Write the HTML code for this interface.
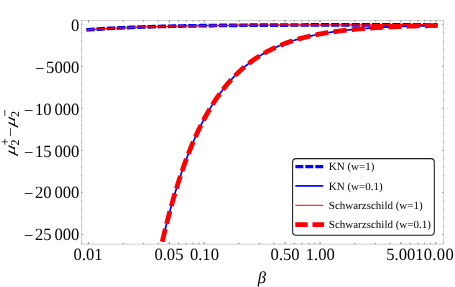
<!DOCTYPE html>
<html><head><meta charset="utf-8"><title>plot</title>
<style>
html,body{margin:0;padding:0;background:#fff;}
body{width:455px;height:287px;overflow:hidden;font-family:"Liberation Serif",serif;}
svg{display:block;will-change:transform;}
text{font-family:"Liberation Serif",serif;fill:#000;text-rendering:geometricPrecision;}
.lg{stroke:none;}
.it{font-style:italic;}
</style></head><body>
<svg width="455" height="287" viewBox="0 0 455 287">
<rect width="455" height="287" fill="#fff"/>

<rect x="81.30" y="20.30" width="362.40" height="223.80" stroke="#b0b0b0" stroke-width="0.6" fill="none"/>
<g stroke="#808080" stroke-width="0.6" fill="none">
<path stroke="#666" stroke-width="0.8" d="M88.40 244.10 v-2.10 M88.40 20.30 v2.10"/>
<path stroke="#666" stroke-width="0.8" d="M123.26 244.10 v-1.30 M123.26 20.30 v1.30"/>
<path stroke="#666" stroke-width="0.8" d="M143.65 244.10 v-1.30 M143.65 20.30 v1.30"/>
<path stroke="#666" stroke-width="0.8" d="M158.12 244.10 v-1.30 M158.12 20.30 v1.30"/>
<path stroke="#666" stroke-width="0.8" d="M169.34 244.10 v-2.10 M169.34 20.30 v2.10"/>
<path stroke="#666" stroke-width="0.8" d="M178.51 244.10 v-1.30 M178.51 20.30 v1.30"/>
<path stroke="#666" stroke-width="0.8" d="M186.26 244.10 v-1.30 M186.26 20.30 v1.30"/>
<path stroke="#666" stroke-width="0.8" d="M192.98 244.10 v-1.30 M192.98 20.30 v1.30"/>
<path stroke="#666" stroke-width="0.8" d="M198.90 244.10 v-1.30 M198.90 20.30 v1.30"/>
<path stroke="#666" stroke-width="0.8" d="M204.20 244.10 v-2.10 M204.20 20.30 v2.10"/>
<path stroke="#666" stroke-width="0.8" d="M239.06 244.10 v-1.30 M239.06 20.30 v1.30"/>
<path stroke="#666" stroke-width="0.8" d="M259.45 244.10 v-1.30 M259.45 20.30 v1.30"/>
<path stroke="#666" stroke-width="0.8" d="M273.92 244.10 v-1.30 M273.92 20.30 v1.30"/>
<path stroke="#666" stroke-width="0.8" d="M285.14 244.10 v-2.10 M285.14 20.30 v2.10"/>
<path stroke="#666" stroke-width="0.8" d="M294.31 244.10 v-1.30 M294.31 20.30 v1.30"/>
<path stroke="#666" stroke-width="0.8" d="M302.06 244.10 v-1.30 M302.06 20.30 v1.30"/>
<path stroke="#666" stroke-width="0.8" d="M308.78 244.10 v-1.30 M308.78 20.30 v1.30"/>
<path stroke="#666" stroke-width="0.8" d="M314.70 244.10 v-1.30 M314.70 20.30 v1.30"/>
<path stroke="#666" stroke-width="0.8" d="M320.00 244.10 v-2.10 M320.00 20.30 v2.10"/>
<path stroke="#666" stroke-width="0.8" d="M354.86 244.10 v-1.30 M354.86 20.30 v1.30"/>
<path stroke="#666" stroke-width="0.8" d="M375.25 244.10 v-1.30 M375.25 20.30 v1.30"/>
<path stroke="#666" stroke-width="0.8" d="M389.72 244.10 v-1.30 M389.72 20.30 v1.30"/>
<path stroke="#666" stroke-width="0.8" d="M400.94 244.10 v-2.10 M400.94 20.30 v2.10"/>
<path stroke="#666" stroke-width="0.8" d="M410.11 244.10 v-1.30 M410.11 20.30 v1.30"/>
<path stroke="#666" stroke-width="0.8" d="M417.86 244.10 v-1.30 M417.86 20.30 v1.30"/>
<path stroke="#666" stroke-width="0.8" d="M424.58 244.10 v-1.30 M424.58 20.30 v1.30"/>
<path stroke="#666" stroke-width="0.8" d="M430.50 244.10 v-1.30 M430.50 20.30 v1.30"/>
<path stroke="#666" stroke-width="0.8" d="M435.80 244.10 v-2.10 M435.80 20.30 v2.10"/>
<path d="M81.30 24.25 h1.90 M443.70 24.25 h-1.90"/>
<path d="M81.30 32.66 h1.10 M443.70 32.66 h-1.10"/>
<path d="M81.30 41.07 h1.10 M443.70 41.07 h-1.10"/>
<path d="M81.30 49.48 h1.10 M443.70 49.48 h-1.10"/>
<path d="M81.30 57.89 h1.10 M443.70 57.89 h-1.10"/>
<path d="M81.30 66.30 h1.90 M443.70 66.30 h-1.90"/>
<path d="M81.30 74.71 h1.10 M443.70 74.71 h-1.10"/>
<path d="M81.30 83.12 h1.10 M443.70 83.12 h-1.10"/>
<path d="M81.30 91.53 h1.10 M443.70 91.53 h-1.10"/>
<path d="M81.30 99.94 h1.10 M443.70 99.94 h-1.10"/>
<path d="M81.30 108.35 h1.90 M443.70 108.35 h-1.90"/>
<path d="M81.30 116.76 h1.10 M443.70 116.76 h-1.10"/>
<path d="M81.30 125.17 h1.10 M443.70 125.17 h-1.10"/>
<path d="M81.30 133.58 h1.10 M443.70 133.58 h-1.10"/>
<path d="M81.30 141.99 h1.10 M443.70 141.99 h-1.10"/>
<path d="M81.30 150.40 h1.90 M443.70 150.40 h-1.90"/>
<path d="M81.30 158.81 h1.10 M443.70 158.81 h-1.10"/>
<path d="M81.30 167.22 h1.10 M443.70 167.22 h-1.10"/>
<path d="M81.30 175.63 h1.10 M443.70 175.63 h-1.10"/>
<path d="M81.30 184.04 h1.10 M443.70 184.04 h-1.10"/>
<path d="M81.30 192.45 h1.90 M443.70 192.45 h-1.90"/>
<path d="M81.30 200.86 h1.10 M443.70 200.86 h-1.10"/>
<path d="M81.30 209.27 h1.10 M443.70 209.27 h-1.10"/>
<path d="M81.30 217.68 h1.10 M443.70 217.68 h-1.10"/>
<path d="M81.30 226.09 h1.10 M443.70 226.09 h-1.10"/>
<path d="M81.30 234.50 h1.90 M443.70 234.50 h-1.90"/>
<path d="M81.30 242.91 h1.10 M443.70 242.91 h-1.10"/>
</g>
<g fill="none">
<path d="M86.40 29.85 L88.16 29.72 L89.91 29.60 L91.67 29.48 L93.42 29.36 L95.18 29.25 L96.93 29.14 L98.69 29.03 L100.44 28.92 L102.20 28.82 L103.96 28.72 L105.71 28.62 L107.47 28.52 L109.22 28.43 L110.98 28.34 L112.73 28.25 L114.49 28.16 L116.25 28.08 L118.00 27.99 L119.76 27.91 L121.51 27.83 L123.27 27.76 L125.02 27.68 L126.78 27.61 L128.54 27.54 L130.29 27.46 L132.05 27.40 L133.80 27.33 L135.56 27.26 L137.31 27.20 L139.07 27.14 L140.82 27.08 L142.58 27.02 L144.34 26.96 L146.09 26.91 L147.85 26.85 L149.60 26.80 L151.36 26.74 L153.11 26.69 L154.87 26.64 L156.63 26.60 L158.38 26.55 L160.14 26.50 L161.89 26.46 L163.65 26.41 L165.40 26.37 L167.16 26.33 L168.92 26.29 L170.67 26.25 L172.43 26.21 L174.18 26.17 L175.94 26.13 L177.69 26.10 L179.45 26.06 L181.20 26.03 L182.96 26.00 L184.72 25.96 L186.47 25.93 L188.23 25.90 L189.98 25.87 L191.74 25.84 L193.49 25.81 L195.25 25.79 L197.01 25.76 L198.76 25.73 L200.52 25.71 L202.27 25.68 L204.03 25.66 L205.78 25.63 L207.54 25.61 L209.30 25.59 L211.05 25.57 L212.81 25.55 L214.56 25.52 L216.32 25.50 L218.07 25.48 L219.83 25.47 L221.58 25.45 L223.34 25.43 L225.10 25.41 L226.85 25.39 L228.61 25.38 L230.36 25.36 L232.12 25.34 L233.87 25.33 L235.63 25.31 L237.39 25.30 L239.14 25.29 L240.90 25.27 L242.65 25.26 L244.41 25.25 L246.16 25.23 L247.92 25.22 L249.68 25.21 L251.43 25.20 L253.19 25.19 L254.94 25.18 L256.70 25.16 L258.45 25.15 L260.21 25.14 L261.96 25.13 L263.72 25.13 L265.48 25.12 L267.23 25.11 L268.99 25.10 L270.74 25.09 L272.50 25.08 L274.25 25.08 L276.01 25.07 L277.77 25.06 L279.52 25.05 L281.28 25.05 L283.03 25.04 L284.79 25.03 L286.54 25.03 L288.30 25.02 L290.06 25.02 L291.81 25.01 L293.57 25.01 L295.32 25.00 L297.08 25.00 L298.83 24.99 L300.59 24.99 L302.34 24.98 L304.10 24.98 L305.86 24.97 L307.61 24.97 L309.37 24.97 L311.12 24.96 L312.88 24.96 L314.63 24.96 L316.39 24.95 L318.15 24.95 L319.90 24.95 L321.66 24.94 L323.41 24.94 L325.17 24.93 L326.92 24.93 L328.68 24.92 L330.44 24.91 L332.19 24.91 L333.95 24.91 L335.70 24.90 L337.46 24.90 L339.21 24.89 L340.97 24.89 L342.72 24.88 L344.48 24.88 L346.24 24.87 L347.99 24.87 L349.75 24.87 L351.50 24.86 L353.26 24.86 L355.01 24.85 L356.77 24.85 L358.53 24.85 L360.28 24.84 L362.04 24.84 L363.79 24.84 L365.55 24.83 L367.30 24.83 L369.06 24.83 L370.82 24.83 L372.57 24.82 L374.33 24.82 L376.08 24.82 L377.84 24.81 L379.59 24.81 L381.35 24.81 L383.10 24.81 L384.86 24.80 L386.62 24.80 L388.37 24.80 L390.13 24.80 L391.88 24.79 L393.64 24.79 L395.39 24.79 L397.15 24.79 L398.91 24.79 L400.66 24.78 L402.42 24.78 L404.17 24.78 L405.93 24.78 L407.68 24.78 L409.44 24.78 L411.20 24.77 L412.95 24.77 L414.71 24.77 L416.46 24.77 L418.22 24.77 L419.97 24.77 L421.73 24.76 L423.48 24.76 L425.24 24.76 L427.00 24.76 L428.75 24.76 L430.51 24.76 L432.26 24.76 L434.02 24.75 L435.77 24.75 L437.53 24.75" stroke="#0000ff" stroke-width="3.7" stroke-dasharray="8.3 1.9"/>
<path d="M162.29 241.60 L163.66 235.74 L165.04 230.04 L166.42 224.50 L167.79 219.10 L169.17 213.85 L170.54 208.74 L171.92 203.77 L173.30 198.93 L174.67 194.23 L176.05 189.65 L177.42 185.19 L178.80 180.86 L180.18 176.64 L181.55 172.54 L182.93 168.54 L184.31 164.66 L185.68 160.88 L187.06 157.20 L188.43 153.62 L189.81 150.14 L191.19 146.75 L192.56 143.45 L193.94 140.24 L195.32 137.12 L196.69 134.08 L198.07 131.13 L199.44 128.25 L200.82 125.45 L202.20 122.73 L203.57 120.08 L204.95 117.51 L206.33 115.00 L207.70 112.56 L209.08 110.18 L210.45 107.87 L211.83 105.63 L213.21 103.44 L214.58 101.31 L215.96 99.24 L217.34 97.22 L218.71 95.26 L220.09 93.36 L221.46 91.50 L222.84 89.69 L224.22 87.94 L225.59 86.23 L226.97 84.56 L228.34 82.95 L229.72 81.37 L231.10 79.84 L232.47 78.35 L233.85 76.90 L235.23 75.48 L236.60 74.11 L237.98 72.77 L239.35 71.47 L240.73 70.21 L242.11 68.98 L243.48 67.78 L244.86 66.61 L246.24 65.48 L247.61 64.38 L248.99 63.30 L250.36 62.26 L251.74 61.24 L253.12 60.25 L254.49 59.29 L255.87 58.35 L257.25 57.44 L258.62 56.56 L260.00 55.69 L261.37 54.85 L262.75 54.04 L264.13 53.24 L265.50 52.47 L266.88 51.72 L268.26 50.99 L269.63 50.27 L271.01 49.58 L272.38 48.91 L273.76 48.25 L275.14 47.61 L276.51 46.99 L277.89 46.39 L279.26 45.80 L280.64 45.23 L282.02 44.67 L283.39 44.13 L284.77 43.60 L286.15 43.09 L287.52 42.59 L288.90 42.10 L290.27 41.63 L291.65 41.17 L293.03 40.72 L294.40 40.29 L295.78 39.86 L297.16 39.45 L298.53 39.05 L299.91 38.66 L301.28 38.28 L302.66 37.91 L304.04 37.55 L305.41 37.20 L306.79 36.86 L308.17 36.53 L309.54 36.21 L310.92 35.90 L312.29 35.59 L313.67 35.29 L315.05 35.01 L316.42 34.73 L317.80 34.45 L319.18 34.19 L320.55 33.93 L321.93 33.68 L323.30 33.43 L324.68 33.19 L326.06 32.96 L327.43 32.73 L328.81 32.51 L330.19 32.30 L331.56 32.09 L332.94 31.89 L334.31 31.69 L335.69 31.50 L337.07 31.32 L338.44 31.14 L339.82 30.96 L341.19 30.79 L342.57 30.62 L343.95 30.46 L345.32 30.30 L346.70 30.15 L348.08 30.00 L349.45 29.85 L350.83 29.71 L352.20 29.57 L353.58 29.44 L354.96 29.31 L356.33 29.18 L357.71 29.06 L359.09 28.93 L360.46 28.82 L361.84 28.70 L363.21 28.59 L364.59 28.49 L365.97 28.38 L367.34 28.28 L368.72 28.18 L370.10 28.08 L371.47 27.99 L372.85 27.90 L374.22 27.81 L375.60 27.72 L376.98 27.64 L378.35 27.56 L379.73 27.48 L381.11 27.40 L382.48 27.32 L383.86 27.25 L385.23 27.18 L386.61 27.11 L387.99 27.04 L389.36 26.97 L390.74 26.91 L392.11 26.85 L393.49 26.79 L394.87 26.73 L396.24 26.67 L397.62 26.61 L399.00 26.56 L400.37 26.51 L401.75 26.46 L403.12 26.41 L404.50 26.36 L405.88 26.31 L407.25 26.26 L408.63 26.22 L410.01 26.17 L411.38 26.13 L412.76 26.09 L414.13 26.05 L415.51 26.01 L416.89 25.97 L418.26 25.94 L419.64 25.90 L421.02 25.87 L422.39 25.83 L423.77 25.80 L425.14 25.77 L426.52 25.73 L427.90 25.70 L429.27 25.67 L430.65 25.64 L432.03 25.62 L433.40 25.59 L434.78 25.56 L436.15 25.54 L437.53 25.51" stroke="#0000ff" stroke-width="1.7"/>
<path d="M86.40 29.85 L88.16 29.72 L89.91 29.60 L91.67 29.48 L93.42 29.36 L95.18 29.25 L96.93 29.14 L98.69 29.03 L100.44 28.92 L102.20 28.82 L103.96 28.72 L105.71 28.62 L107.47 28.52 L109.22 28.43 L110.98 28.34 L112.73 28.25 L114.49 28.16 L116.25 28.08 L118.00 27.99 L119.76 27.91 L121.51 27.83 L123.27 27.76 L125.02 27.68 L126.78 27.61 L128.54 27.54 L130.29 27.46 L132.05 27.40 L133.80 27.33 L135.56 27.26 L137.31 27.20 L139.07 27.14 L140.82 27.08 L142.58 27.02 L144.34 26.96 L146.09 26.91 L147.85 26.85 L149.60 26.80 L151.36 26.74 L153.11 26.69 L154.87 26.64 L156.63 26.60 L158.38 26.55 L160.14 26.50 L161.89 26.46 L163.65 26.41 L165.40 26.37 L167.16 26.33 L168.92 26.29 L170.67 26.25 L172.43 26.21 L174.18 26.17 L175.94 26.13 L177.69 26.10 L179.45 26.06 L181.20 26.03 L182.96 26.00 L184.72 25.96 L186.47 25.93 L188.23 25.90 L189.98 25.87 L191.74 25.84 L193.49 25.81 L195.25 25.79 L197.01 25.76 L198.76 25.73 L200.52 25.71 L202.27 25.68 L204.03 25.66 L205.78 25.63 L207.54 25.61 L209.30 25.59 L211.05 25.57 L212.81 25.55 L214.56 25.52 L216.32 25.50 L218.07 25.48 L219.83 25.47 L221.58 25.45 L223.34 25.43 L225.10 25.41 L226.85 25.39 L228.61 25.38 L230.36 25.36 L232.12 25.34 L233.87 25.33 L235.63 25.31 L237.39 25.30 L239.14 25.29 L240.90 25.27 L242.65 25.26 L244.41 25.25 L246.16 25.23 L247.92 25.22 L249.68 25.21 L251.43 25.20 L253.19 25.19 L254.94 25.18 L256.70 25.16 L258.45 25.15 L260.21 25.14 L261.96 25.13 L263.72 25.13 L265.48 25.12 L267.23 25.11 L268.99 25.10 L270.74 25.09 L272.50 25.08 L274.25 25.08 L276.01 25.07 L277.77 25.06 L279.52 25.05 L281.28 25.05 L283.03 25.04 L284.79 25.03 L286.54 25.03 L288.30 25.02 L290.06 25.02 L291.81 25.01 L293.57 25.01 L295.32 25.00 L297.08 25.00 L298.83 24.99 L300.59 24.99 L302.34 24.98 L304.10 24.98 L305.86 24.97 L307.61 24.97 L309.37 24.97 L311.12 24.96 L312.88 24.96 L314.63 24.96 L316.39 24.95 L318.15 24.95 L319.90 24.95 L321.66 24.94 L323.41 24.94 L325.17 24.93 L326.92 24.93 L328.68 24.92 L330.44 24.91 L332.19 24.91 L333.95 24.91 L335.70 24.90 L337.46 24.90 L339.21 24.89 L340.97 24.89 L342.72 24.88 L344.48 24.88 L346.24 24.87 L347.99 24.87 L349.75 24.87 L351.50 24.86 L353.26 24.86 L355.01 24.85 L356.77 24.85 L358.53 24.85 L360.28 24.84 L362.04 24.84 L363.79 24.84 L365.55 24.83 L367.30 24.83 L369.06 24.83 L370.82 24.83 L372.57 24.82 L374.33 24.82 L376.08 24.82 L377.84 24.81 L379.59 24.81 L381.35 24.81 L383.10 24.81 L384.86 24.80 L386.62 24.80 L388.37 24.80 L390.13 24.80 L391.88 24.79 L393.64 24.79 L395.39 24.79 L397.15 24.79 L398.91 24.79 L400.66 24.78 L402.42 24.78 L404.17 24.78 L405.93 24.78 L407.68 24.78 L409.44 24.78 L411.20 24.77 L412.95 24.77 L414.71 24.77 L416.46 24.77 L418.22 24.77 L419.97 24.77 L421.73 24.76 L423.48 24.76 L425.24 24.76 L427.00 24.76 L428.75 24.76 L430.51 24.76 L432.26 24.76 L434.02 24.75 L435.77 24.75 L437.53 24.75" stroke="#ff0000" stroke-width="1.4"/>
<path d="M162.29 241.60 L163.66 235.74 L165.04 230.04 L166.42 224.50 L167.79 219.10 L169.17 213.85 L170.54 208.74 L171.92 203.77 L173.30 198.93 L174.67 194.23 L176.05 189.65 L177.42 185.19 L178.80 180.86 L180.18 176.64 L181.55 172.54 L182.93 168.54 L184.31 164.66 L185.68 160.88 L187.06 157.20 L188.43 153.62 L189.81 150.14 L191.19 146.75 L192.56 143.45 L193.94 140.24 L195.32 137.12 L196.69 134.08 L198.07 131.13 L199.44 128.25 L200.82 125.45 L202.20 122.73 L203.57 120.08 L204.95 117.51 L206.33 115.00 L207.70 112.56 L209.08 110.18 L210.45 107.87 L211.83 105.63 L213.21 103.44 L214.58 101.31 L215.96 99.24 L217.34 97.22 L218.71 95.26 L220.09 93.36 L221.46 91.50 L222.84 89.69 L224.22 87.94 L225.59 86.23 L226.97 84.56 L228.34 82.95 L229.72 81.37 L231.10 79.84 L232.47 78.35 L233.85 76.90 L235.23 75.48 L236.60 74.11 L237.98 72.77 L239.35 71.47 L240.73 70.21 L242.11 68.98 L243.48 67.78 L244.86 66.61 L246.24 65.48 L247.61 64.38 L248.99 63.30 L250.36 62.26 L251.74 61.24 L253.12 60.25 L254.49 59.29 L255.87 58.35 L257.25 57.44 L258.62 56.56 L260.00 55.69 L261.37 54.85 L262.75 54.04 L264.13 53.24 L265.50 52.47 L266.88 51.72 L268.26 50.99 L269.63 50.27 L271.01 49.58 L272.38 48.91 L273.76 48.25 L275.14 47.61 L276.51 46.99 L277.89 46.39 L279.26 45.80 L280.64 45.23 L282.02 44.67 L283.39 44.13 L284.77 43.60 L286.15 43.09 L287.52 42.59 L288.90 42.10 L290.27 41.63 L291.65 41.17 L293.03 40.72 L294.40 40.29 L295.78 39.86 L297.16 39.45 L298.53 39.05 L299.91 38.66 L301.28 38.28 L302.66 37.91 L304.04 37.55 L305.41 37.20 L306.79 36.86 L308.17 36.53 L309.54 36.21 L310.92 35.90 L312.29 35.59 L313.67 35.29 L315.05 35.01 L316.42 34.73 L317.80 34.45 L319.18 34.19 L320.55 33.93 L321.93 33.68 L323.30 33.43 L324.68 33.19 L326.06 32.96 L327.43 32.73 L328.81 32.51 L330.19 32.30 L331.56 32.09 L332.94 31.89 L334.31 31.69 L335.69 31.50 L337.07 31.32 L338.44 31.14 L339.82 30.96 L341.19 30.79 L342.57 30.62 L343.95 30.46 L345.32 30.30 L346.70 30.15 L348.08 30.00 L349.45 29.85 L350.83 29.71 L352.20 29.57 L353.58 29.44 L354.96 29.31 L356.33 29.18 L357.71 29.06 L359.09 28.93 L360.46 28.82 L361.84 28.70 L363.21 28.59 L364.59 28.49 L365.97 28.38 L367.34 28.28 L368.72 28.18 L370.10 28.08 L371.47 27.99 L372.85 27.90 L374.22 27.81 L375.60 27.72 L376.98 27.64 L378.35 27.56 L379.73 27.48 L381.11 27.40 L382.48 27.32 L383.86 27.25 L385.23 27.18 L386.61 27.11 L387.99 27.04 L389.36 26.97 L390.74 26.91 L392.11 26.85 L393.49 26.79 L394.87 26.73 L396.24 26.67 L397.62 26.61 L399.00 26.56 L400.37 26.51 L401.75 26.46 L403.12 26.41 L404.50 26.36 L405.88 26.31 L407.25 26.26 L408.63 26.22 L410.01 26.17 L411.38 26.13 L412.76 26.09 L414.13 26.05 L415.51 26.01 L416.89 25.97 L418.26 25.94 L419.64 25.90 L421.02 25.87 L422.39 25.83 L423.77 25.80 L425.14 25.77 L426.52 25.73 L427.90 25.70 L429.27 25.67 L430.65 25.64 L432.03 25.62 L433.40 25.59 L434.78 25.56 L436.15 25.54 L437.53 25.51" stroke="#ff0000" stroke-width="4.8" stroke-dasharray="13.03 5.3"/>
</g>
<text transform="translate(79.3,30.80) scale(1,1.035)" font-size="16.6" text-anchor="end">0</text>
<text transform="translate(79.3,72.60) scale(1,1.035)" font-size="16.6" text-anchor="end">5000</text>
<text class="lg" x="35.00" y="73.80" font-size="16.6">−</text>
<text transform="translate(79.3,115.00) scale(1,1.035)" font-size="16.6" text-anchor="end">10<tspan dx="2.9">000</tspan></text>
<text class="lg" x="23.90" y="116.20" font-size="16.6">−</text>
<text transform="translate(79.3,156.50) scale(1,1.035)" font-size="16.6" text-anchor="end">15<tspan dx="2.9">000</tspan></text>
<text class="lg" x="23.90" y="157.70" font-size="16.6">−</text>
<text transform="translate(79.3,198.25) scale(1,1.035)" font-size="16.6" text-anchor="end">20<tspan dx="2.9">000</tspan></text>
<text class="lg" x="23.90" y="199.45" font-size="16.6">−</text>
<text transform="translate(79.3,239.70) scale(1,1.035)" font-size="16.6" text-anchor="end">25<tspan dx="2.9">000</tspan></text>
<text class="lg" x="23.90" y="240.90" font-size="16.6">−</text>
<text transform="translate(88.10,260.2) scale(1,1.035)" font-size="16.6" text-anchor="middle">0.01</text>
<text transform="translate(168.94,260.2) scale(1,1.035)" font-size="16.6" text-anchor="middle">0.05</text>
<text transform="translate(204.40,260.2) scale(1,1.035)" font-size="16.6" text-anchor="middle">0.10</text>
<text transform="translate(285.14,260.2) scale(1,1.035)" font-size="16.6" text-anchor="middle">0.50</text>
<text transform="translate(320.30,260.2) scale(1,1.035)" font-size="16.6" text-anchor="middle">1.00</text>
<text transform="translate(400.74,260.2) scale(1,1.035)" font-size="16.6" text-anchor="middle">5.00</text>
<text letter-spacing="0.3" transform="translate(434.60,260.2) scale(1,1.035)" font-size="16.6" text-anchor="middle">10.00</text>
<text x="262" y="283" font-size="16.6" class="it" text-anchor="middle">β</text>
<g transform="translate(14.70,154.90) rotate(-90)"><text class="it" font-size="16" transform="translate(-0.6,0) scale(1.2,0.88) skewX(-10)">μ</text></g>
<g transform="translate(19.00,145.50) rotate(-90)"><text class="lg" font-size="12">2</text></g>
<g transform="translate(14.70,126.40) rotate(-90)"><text class="it" font-size="16" transform="translate(-0.6,0) scale(1.2,0.88) skewX(-10)">μ</text></g>
<g transform="translate(19.00,117.00) rotate(-90)"><text class="lg" font-size="12">2</text></g>
<g stroke="#111" stroke-width="0.8" fill="none">
<path d="M10.5 128.2V136.1"/>
<path d="M4.8 109.9V115.9"/>
<path d="M4.8 138.8V144.8M1.8 141.8H7.8"/>
</g>
<rect x="292.6" y="158.6" width="141.7" height="76.7" rx="3.5" ry="3.5" fill="#fff" stroke="#1a1a1a" stroke-width="1.05"/>
<path d="M295.4 166.60 H323.2" stroke="#0000ff" stroke-width="3.4" stroke-dasharray="7.9 2.05" fill="none"/>
<path d="M295.4 185.90 H323.2" stroke="#0000ff" stroke-width="1.7" fill="none"/>
<path d="M295.4 205.30 H323.2" stroke="#ff0000" stroke-width="1.0" fill="none"/>
<path d="M295.3 224.60 H324.1" stroke="#ff0000" stroke-width="4.6" stroke-dasharray="12.4 4.8" fill="none"/>
<text class="lg" x="328.8" y="170.20" font-size="11">KN (w=1)</text>
<text class="lg" x="328.8" y="189.50" font-size="11">KN (w=0.1)</text>
<text class="lg" x="328.8" y="208.90" font-size="11">Schwarzschild (w=1)</text>
<text class="lg" x="328.8" y="228.20" font-size="11">Schwarzschild (w=0.1)</text>
</svg></body></html>
